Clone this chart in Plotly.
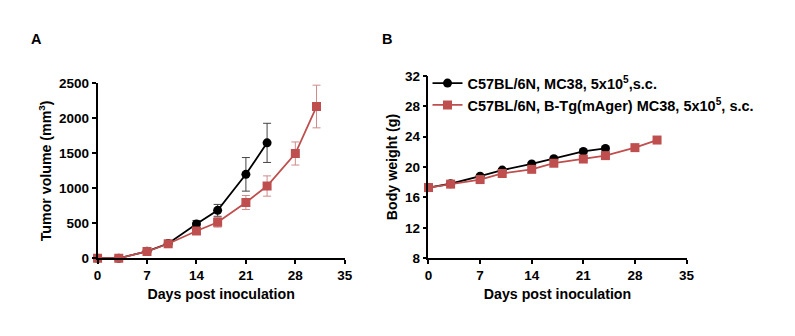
import plotly.graph_objects as go

days_wt = [0, 3, 7, 10, 14, 17, 21, 24]
days_tg = [0, 3, 7, 10, 14, 17, 21, 24, 28, 31]

tumor_wt = [0, 0, 100, 210, 490, 685, 1200, 1650]
tumor_wt_err = [0, 0, 10, 20, 50, 85, 240, 280]
tumor_tg = [0, 0, 97, 207, 390, 515, 797, 1033, 1498, 2170]
tumor_tg_err = [0, 0, 10, 20, 45, 70, 100, 145, 165, 305]

weight_wt = [17.3, 17.8, 18.8, 19.6, 20.4, 21.1, 22.05, 22.45]
weight_wt_err = [0.2, 0.2, 0.2, 0.2, 0.2, 0.2, 0.2, 0.2]
weight_tg = [17.3, 17.75, 18.35, 19.15, 19.7, 20.5, 21.05, 21.5, 22.55, 23.55]
weight_tg_err = [0.2, 0.2, 0.2, 0.2, 0.2, 0.2, 0.2, 0.2, 0.2, 0.35]

name_wt = "C57BL/6N, MC38, 5x10<sup>5</sup>,s.c."
name_tg = "C57BL/6N, B-Tg(mAger) MC38, 5x10<sup>5</sup>, s.c."

BLACK = "#000000"
RED = "#bf4e4e"
FONT = "Liberation Sans, Arial, sans-serif"

fig = go.Figure()

fig.add_trace(go.Scatter(x=days_wt, y=tumor_wt, mode="lines+markers",
    line=dict(color=BLACK, width=1.8), marker=dict(symbol="circle", size=9, color=BLACK),
    error_y=dict(type="data", array=tumor_wt_err, color="#444444", thickness=1, width=4),
    cliponaxis=False, showlegend=False, xaxis="x", yaxis="y"))
fig.add_trace(go.Scatter(x=days_tg, y=tumor_tg, mode="lines+markers",
    line=dict(color=RED, width=1.8), marker=dict(symbol="square", size=9, color=RED),
    error_y=dict(type="data", array=tumor_tg_err, color="#d08a8a", thickness=1, width=4),
    cliponaxis=False, showlegend=False, xaxis="x", yaxis="y"))

fig.add_trace(go.Scatter(x=days_wt, y=weight_wt, mode="lines+markers", name=name_wt,
    line=dict(color=BLACK, width=1.8), marker=dict(symbol="circle", size=9, color=BLACK),
    error_y=dict(type="data", array=weight_wt_err, color="#444444", thickness=1, width=4),
    cliponaxis=False, xaxis="x2", yaxis="y2"))
fig.add_trace(go.Scatter(x=days_tg, y=weight_tg, mode="lines+markers", name=name_tg,
    line=dict(color=RED, width=1.8), marker=dict(symbol="square", size=9, color=RED),
    error_y=dict(type="data", array=weight_tg_err, color="#d08a8a", thickness=1, width=4),
    cliponaxis=False, xaxis="x2", yaxis="y2"))

W, H = 795, 336
axcommon = dict(showgrid=False, zeroline=False, showline=True, linecolor="black", linewidth=1.6,
                ticks="outside", ticklen=4, tickwidth=1.6, tickcolor="black",
                tickfont=dict(family=FONT, size=13.5, color="black", weight="bold"),
                title_font=dict(family=FONT, size=14.2, color="black", weight="bold"))

fig.update_layout(
    width=W, height=H, margin=dict(l=0, r=0, t=0, b=0),
    paper_bgcolor="white", plot_bgcolor="white",
    font=dict(family=FONT, color="black"),
    xaxis=dict(domain=[95 / W, 346 / W], range=[0, 35], tickvals=[0, 7, 14, 21, 28, 35],
               title=dict(text="Days post inoculation", standoff=7), anchor="y", **axcommon),
    yaxis=dict(domain=[1 - 263 / H, 1 - 80 / H], range=[0, 2500], tickvals=[0, 500, 1000, 1500, 2000, 2500],
               title=dict(text="Tumor volume (mm<sup>3</sup>)", standoff=4), anchor="x", **axcommon),
    xaxis2=dict(domain=[431 / W, 693 / W], range=[0, 35], tickvals=[0, 7, 14, 21, 28, 35],
                title=dict(text="Days post inoculation", standoff=7), anchor="y2", **axcommon),
    yaxis2=dict(domain=[1 - 263 / H, 1 - 72 / H], range=[8, 32], tickvals=[8, 12, 16, 20, 24, 28, 32],
                title=dict(text="Body weight (g)", standoff=4), anchor="x2", **axcommon),
    legend=dict(x=430 / W, y=1 - 63 / H, xanchor="left", yanchor="top",
                bgcolor="rgba(0,0,0,0)", tracegroupgap=0,
                font=dict(family=FONT, size=14.5, color="black", weight="bold")),
    annotations=[
        dict(text="A", x=25 / W, y=1 - 34 / H, xref="paper", yref="paper", showarrow=False,
             font=dict(family=FONT, size=14.5, color="black", weight="bold"), xanchor="left", yanchor="middle"),
        dict(text="B", x=382 / W, y=1 - 34 / H, xref="paper", yref="paper", showarrow=False,
             font=dict(family=FONT, size=14.5, color="black", weight="bold"), xanchor="left", yanchor="middle"),
    ],
)

fig.write_html("out.html")
